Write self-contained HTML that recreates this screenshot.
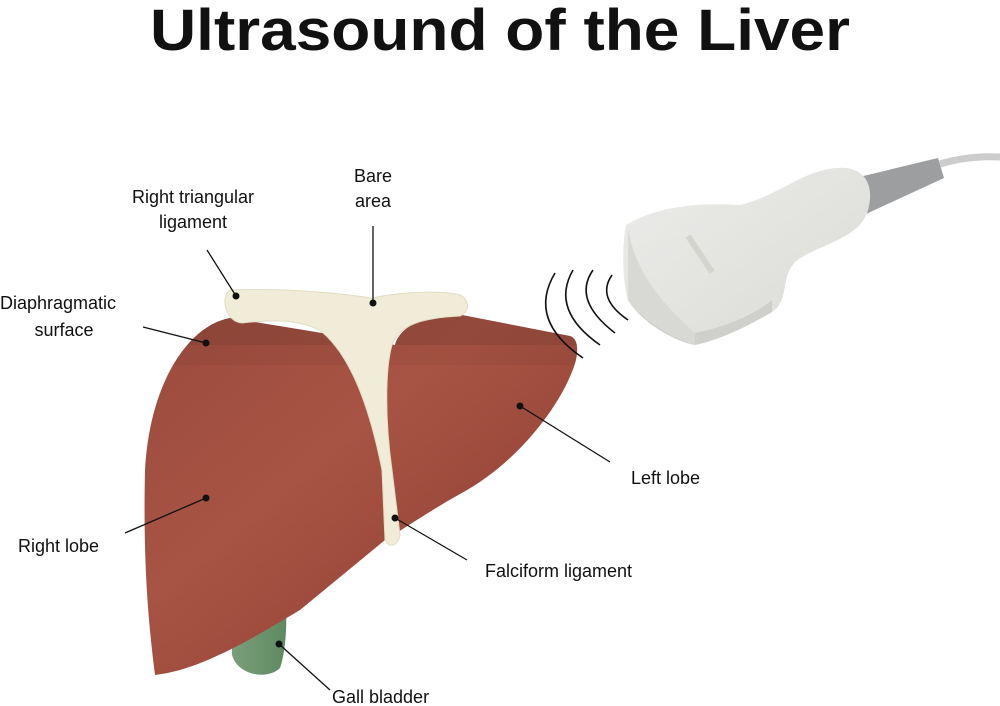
<!DOCTYPE html>
<html><head><meta charset="utf-8"><style>
html,body{margin:0;padding:0;background:#fff}
svg{display:block}
text{font-family:"Liberation Sans",sans-serif;fill:#111}
</style></head><body>
<svg width="1000" height="706" viewBox="0 0 1000 706" xmlns="http://www.w3.org/2000/svg">
<defs>
<linearGradient id="liv" x1="0" y1="0" x2="1" y2="1">
<stop offset="0" stop-color="#9a4a3d"/><stop offset="0.4" stop-color="#a85444"/><stop offset="1" stop-color="#8a3a30"/></linearGradient>
<linearGradient id="probe" x1="0" y1="0" x2="1" y2="1">
<stop offset="0" stop-color="#ececea"/><stop offset="1" stop-color="#dadad6"/></linearGradient>
<linearGradient id="gb" x1="0" y1="0" x2="1" y2="0">
<stop offset="0" stop-color="#7a9e7a"/><stop offset="1" stop-color="#5e8a60"/></linearGradient>
<clipPath id="lc"><path d="M230,318 C190,325 150,380 145,470 C143,560 148,620 155,675 C200,670 250,640 300,610 L385,540 L398,532 C420,518 440,505 460,494 C520,462 565,400 576,360 C579,345 576,338 570,336 L462,315 C430,312 400,325 395,345 Z"/></clipPath>
</defs>
<text x="500" y="50" text-anchor="middle" font-size="58" font-weight="bold" textLength="700" lengthAdjust="spacingAndGlyphs">Ultrasound of the Liver</text>

<path d="M232,625 L232,655 C238,676 268,680 280,668 C286,650 287,625 286,598 Z" fill="url(#gb)"/>
<path d="M230,318 C190,325 150,380 145,470 C143,560 148,620 155,675 C200,670 250,640 300,610 L385,540 L398,532 C420,518 440,505 460,494 C520,462 565,400 576,360 C579,345 576,338 570,336 L462,315 C430,312 400,325 395,345 Z" fill="url(#liv)"/>
<g clip-path="url(#lc)">
<rect x="140" y="300" width="450" height="45" fill="#7a3d32" opacity="0.45"/>
<rect x="140" y="345" width="450" height="20" fill="#7a3d32" opacity="0.15"/>
</g>
<path d="M230,290 C280,288 330,292 372,298 C400,292 440,290 460,295 C470,300 470,312 460,316 C420,318 400,325 392,345 C385,370 385,420 392,470 L400,535 C398,547 388,548 385,540 L382,470 C372,420 355,360 322,332 C300,318 270,320 242,323 C225,322 220,296 230,290 Z" fill="#f1ecd8" stroke="#e2dcc4" stroke-width="1"/>

<g fill="none" stroke="#111" stroke-width="1.6">
<path d="M612,275 Q596,298 628,320"/>
<path d="M593,270 Q572,300 615,333"/>
<path d="M573,270 Q550,310 600,345"/>
<path d="M555,273 Q527,320 583,358"/>
</g>
<path d="M940,164 C960,158 980,156 1000,157" stroke="#ccc" stroke-width="7" fill="none"/>
<path d="M855,178 L938,158 L944,178 L866,214 Z" fill="#9c9ea0"/>
<path d="M626,225 C660,205 700,203 740,205 C780,195 800,172 835,168 C865,165 875,185 868,210 C860,240 815,245 795,262 C780,278 790,300 772,312 C750,325 720,340 695,345 C670,340 640,320 628,300 C622,280 622,245 626,225 Z" fill="url(#probe)"/>
<path d="M628,285 C640,310 668,325 695,333 C720,328 750,318 772,300 L772,312 C750,325 720,340 695,345 C670,340 640,320 628,300 Z" fill="#cfcfcb"/>
<path d="M628,228 C632,250 640,285 695,333 L695,345 C668,337 640,318 628,300 Z" fill="#d8d8d4"/>
<path d="M688,236 L712,272" stroke="#d4d4cf" stroke-width="6"/>

<g stroke="#111" stroke-width="1.3">
<line x1="207" y1="250" x2="236" y2="296"/>
<line x1="373" y1="226" x2="373" y2="303"/>
<line x1="143" y1="327" x2="206" y2="343"/>
<line x1="520" y1="406" x2="610" y2="462"/>
<line x1="125" y1="533" x2="206" y2="498"/>
<line x1="395" y1="518" x2="467" y2="560"/>
<line x1="279" y1="644" x2="330" y2="690"/>
</g>
<g fill="#111">
<circle cx="236" cy="296" r="3.5"/><circle cx="373" cy="303" r="3.5"/><circle cx="206" cy="343" r="3.5"/>
<circle cx="520" cy="406" r="3.5"/><circle cx="206" cy="498" r="3.5"/><circle cx="395" cy="518" r="3.5"/><circle cx="279" cy="644" r="3.5"/>
</g>
<g font-size="18">
<text x="193" y="203" text-anchor="middle">Right triangular</text>
<text x="193" y="228" text-anchor="middle">ligament</text>
<text x="373" y="182" text-anchor="middle">Bare</text>
<text x="373" y="207" text-anchor="middle">area</text>
<text x="0" y="309">Diaphragmatic</text>
<text x="64" y="336" text-anchor="middle">surface</text>
<text x="631" y="484">Left lobe</text>
<text x="18" y="552">Right lobe</text>
<text x="485" y="577">Falciform ligament</text>
<text x="332" y="703">Gall bladder</text>
</g>
</svg>
</body></html>
